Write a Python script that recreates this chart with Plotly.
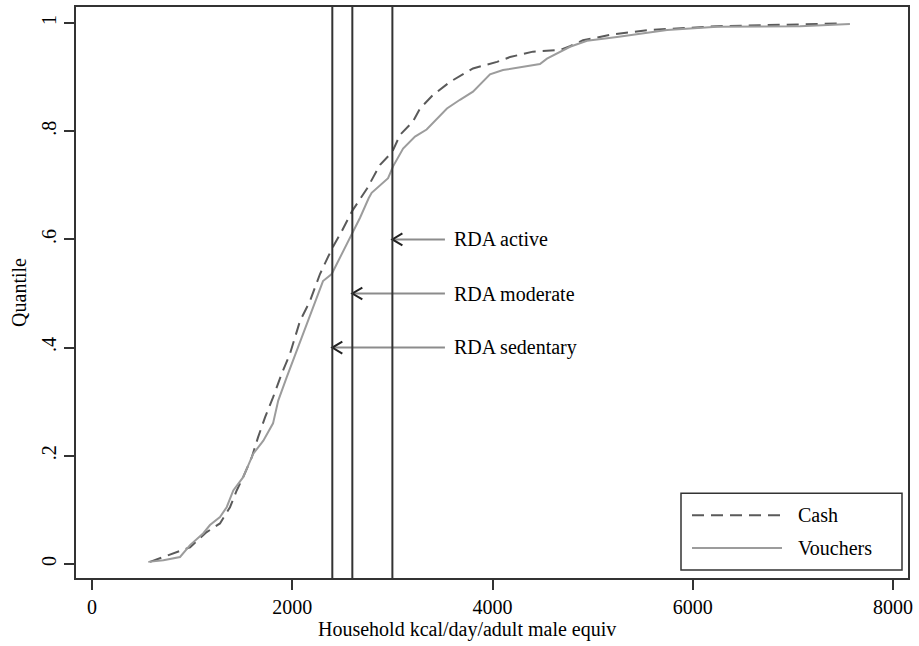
import plotly.graph_objects as go

# Cumulative distribution of household calorie availability, by transfer type
cash_kcal = [579, 779, 979, 1145, 1278, 1378, 1445, 1508, 1595, 1658, 1728, 1808,
             1895, 1978, 2077, 2177, 2277, 2394, 2494, 2597, 2747, 2877, 3000,
             3076, 3206, 3276, 3406, 3575, 3805, 4045, 4175, 4404, 4674, 4774,
             4904, 5204, 5573, 6242, 7071, 7450]
cash_q = [0.004, 0.017, 0.031, 0.059, 0.075, 0.105, 0.136, 0.160, 0.197, 0.234,
          0.271, 0.308, 0.352, 0.389, 0.449, 0.486, 0.536, 0.582, 0.615, 0.652,
          0.694, 0.738, 0.762, 0.793, 0.818, 0.842, 0.867, 0.891, 0.916, 0.928,
          0.937, 0.947, 0.950, 0.957, 0.968, 0.979, 0.987, 0.994, 0.998, 0.999]

voucher_kcal = [562, 713, 879, 979, 1112, 1178, 1278, 1345, 1411, 1508, 1611,
                1711, 1808, 1860, 1944, 2044, 2207, 2307, 2394, 2494, 2597, 2677,
                2763, 2793, 2957, 3007, 3107, 3226, 3342, 3545, 3675, 3805, 3975,
                4105, 4474, 4544, 4774, 4944, 5244, 5743, 6242, 7071, 7570]
voucher_q = [0.004, 0.007, 0.013, 0.035, 0.057, 0.072, 0.087, 0.105, 0.136,
             0.160, 0.204, 0.228, 0.260, 0.302, 0.345, 0.394, 0.473, 0.523,
             0.536, 0.572, 0.609, 0.640, 0.676, 0.686, 0.713, 0.735, 0.768,
             0.790, 0.803, 0.842, 0.858, 0.873, 0.905, 0.913, 0.924, 0.934,
             0.956, 0.967, 0.974, 0.987, 0.993, 0.994, 0.998]

# Recommended daily allowances and the quantile where each label sits
rda_names = ["RDA sedentary", "RDA moderate", "RDA active"]
rda_kcal = [2400, 2600, 3000]
rda_label_q = [0.4, 0.5, 0.6]

series_names = ["Cash", "Vouchers"]
x_ticks = [0, 2000, 4000, 6000, 8000]
y_ticks = [0, 0.2, 0.4, 0.6, 0.8, 1]
y_tick_text = ["0", ".2", ".4", ".6", ".8", "1"]
x_title = "Household kcal/day/adult male equiv"
y_title = "Quantile"

FONT = "Liberation Serif, Times New Roman, serif"
FS = 20
TEXT = "#000000"
CASH_COLOR = "#5a5a5a"
VOUCHER_COLOR = "#9c9c9c"
FRAME = "#333333"

X_RANGE = [-160, 8150]
Y_RANGE = [-0.0258, 1.0295]

fig = go.Figure()

fig.add_trace(go.Scatter(x=cash_kcal, y=cash_q, mode="lines", name=series_names[0],
                         line=dict(color=CASH_COLOR, width=2, dash="12px,7px"),
                         showlegend=False))
fig.add_trace(go.Scatter(x=voucher_kcal, y=voucher_q, mode="lines", name=series_names[1],
                         line=dict(color=VOUCHER_COLOR, width=2),
                         showlegend=False))

shapes = []
annotations = []

# vertical RDA reference lines
for k in rda_kcal:
    shapes.append(dict(type="line", xref="x", yref="paper", x0=k, x1=k, y0=0, y1=1,
                       line=dict(color=FRAME, width=2)))

# arrows pointing from each label to its RDA line
tail_x = 3525
head_dx = 100     # chevron arm length in kcal units
head_dy = 0.011   # chevron half-height in quantile units
for name, k, q in zip(rda_names, rda_kcal, rda_label_q):
    fig.add_trace(go.Scatter(x=[k, tail_x], y=[q, q], mode="lines",
                             line=dict(color="#8c8c8c", width=2),
                             showlegend=False, hoverinfo="skip"))
    fig.add_trace(go.Scatter(x=[k + head_dx, k, k + head_dx],
                             y=[q + head_dy, q, q - head_dy], mode="lines",
                             line=dict(color="#222222", width=2),
                             showlegend=False, hoverinfo="skip"))
    annotations.append(dict(x=3595, y=q, xref="x", yref="y", text=name,
                            showarrow=False, xanchor="left", yanchor="middle",
                            font=dict(family=FONT, size=FS, color=TEXT)))

# layout helpers: pixel positions inside the plotting frame -> paper coords
plot_l, plot_r, plot_t, plot_b = 76, 908, 5, 578
pw, ph = plot_r - plot_l, plot_b - plot_t


def px(xp):
    return (xp - plot_l) / pw


def py(yp):
    return (plot_b - yp) / ph


# x axis title, centred on the whole graph area
annotations.append(dict(x=px(467), y=py(630), xref="paper", yref="paper",
                        text=x_title, showarrow=False, xanchor="center",
                        yanchor="middle", font=dict(family=FONT, size=FS, color=TEXT)))

# legend box
shapes.append(dict(type="rect", xref="paper", yref="paper",
                   x0=px(681), x1=px(902), y0=py(570), y1=py(493),
                   line=dict(color=FRAME, width=1.5), fillcolor="white"))
legend_rows = [(series_names[0], CASH_COLOR, "12px,7px", 515),
               (series_names[1], VOUCHER_COLOR, "solid", 548)]
for name, col, dash, yrow in legend_rows:
    shapes.append(dict(type="line", xref="paper", yref="paper",
                       x0=px(692), x1=px(782), y0=py(yrow), y1=py(yrow),
                       line=dict(color=col, width=2, dash=dash)))
    annotations.append(dict(x=px(796), y=py(yrow), xref="paper", yref="paper",
                            text=name, showarrow=False, xanchor="left",
                            yanchor="middle",
                            font=dict(family=FONT, size=FS, color=TEXT)))

fig.update_layout(
    width=919, height=646,
    margin=dict(l=plot_l, r=919 - plot_r, t=plot_t, b=646 - plot_b),
    paper_bgcolor="white", plot_bgcolor="white",
    font=dict(family=FONT, size=FS, color=TEXT),
    shapes=shapes, annotations=annotations,
    showlegend=False,
    xaxis=dict(range=X_RANGE, tickvals=x_ticks, ticktext=[str(v) for v in x_ticks],
               showgrid=False, zeroline=False, showline=True, mirror=True,
               linecolor=FRAME, linewidth=2, ticks="outside", ticklen=10,
               tickwidth=1.5, tickcolor=FRAME,
               tickfont=dict(family=FONT, size=FS, color=TEXT)),
    yaxis=dict(range=Y_RANGE, tickvals=y_ticks, ticktext=y_tick_text,
               tickangle=-90,
               showgrid=False, zeroline=False, showline=True, mirror=True,
               linecolor=FRAME, linewidth=2, ticks="outside", ticklen=10,
               tickwidth=1.5, tickcolor=FRAME,
               tickfont=dict(family=FONT, size=FS, color=TEXT),
               title=dict(text=y_title, font=dict(family=FONT, size=FS, color=TEXT),
                          standoff=6)),
)

fig.write_html("out.html")
